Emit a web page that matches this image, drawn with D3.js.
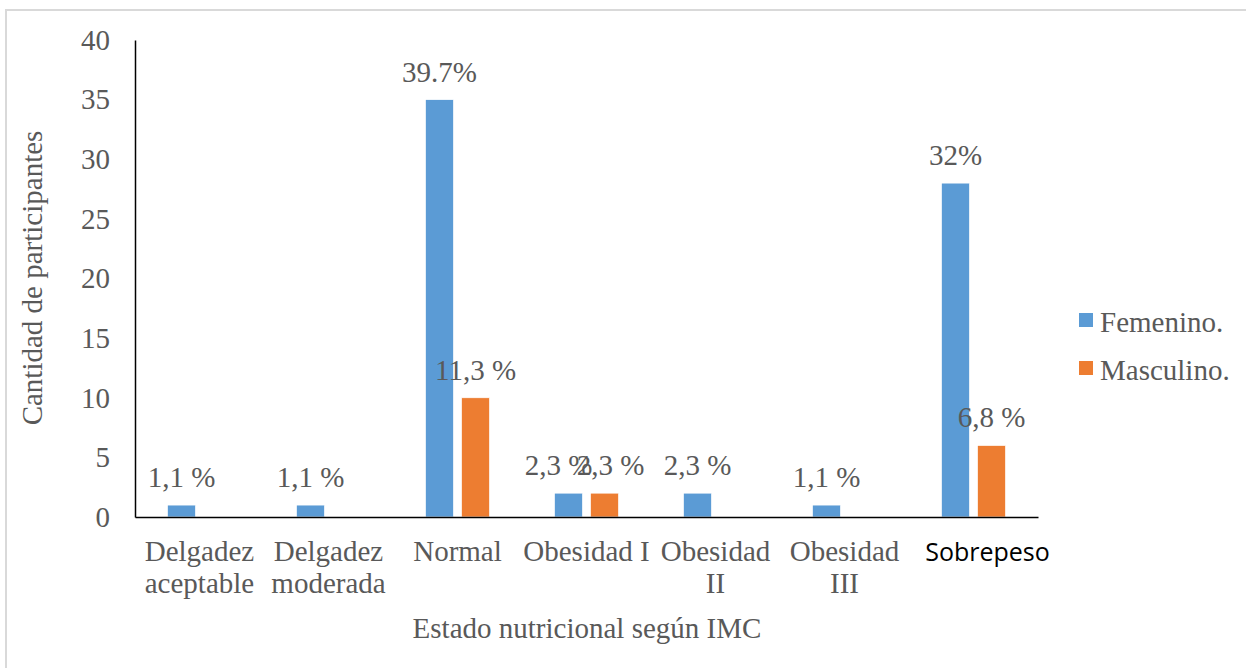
<!DOCTYPE html>
<html lang="es">
<head>
<meta charset="UTF-8">
<title>Estado nutricional según IMC</title>
<script src="https://d3js.org/d3.v7.min.js"></script>
<style>
  body { margin: 0; background: #fff; }
  svg text { font-family: "Liberation Serif", "Times New Roman", serif; fill: #595959; }
</style>
</head>
<body>
<svg width="1246" height="668"></svg>
<script>
// chart data
const categories = [["Delgadez", "aceptable"], ["Delgadez", "moderada"], ["Normal"], ["Obesidad I"], ["Obesidad", "II"], ["Obesidad", "III"], ["Sobrepeso"]];
const femenino = [1, 1, 35, 2, 2, 1, 28];
const masculino = [0, 0, 10, 2, 0, 0, 6];
const femLabels = ["1,1 %", "1,1 %", "39.7%", "2,3 %", "2,3 %", "1,1 %", "32%"];
const mascLabels = [null, null, "11,3 %", "2,3 %", null, null, "6,8 %"];
const seriesNames = ["Femenino.", "Masculino."];
const yTicks = [0, 5, 10, 15, 20, 25, 30, 35, 40];

const colors = ["#5b9bd5", "#ed7d31"];
const fs = "29px";
const svg = d3.select("svg");

// outer frame
svg.append("rect")
    .attr("x", 6).attr("y", 10)
    .attr("width", 1260).attr("height", 680)
    .attr("fill", "none").attr("stroke", "#d9d9d9").attr("stroke-width", 2);

const plotLeft = 135, plotRight = 1038, plotTop = 40, plotBottom = 517;

const x = d3.scaleBand().domain(d3.range(categories.length)).range([plotLeft, plotRight]);
const sub = d3.scaleBand().domain([0, 1]).range([0, x.bandwidth()]).paddingInner(0.22).paddingOuter(0.9);
const y = d3.scaleLinear().domain([0, 40]).range([plotBottom, plotTop]);

// labels in the crowded "Obesidad I" group are pushed apart a little, as in the original
const nudge = (s, i) => (i === 3 ? (s === 0 ? -10 : 6) : 0);

// bars + labels
const series = [femenino, masculino];
const labels = [femLabels, mascLabels];
series.forEach((vals, s) => {
    const rows = vals.map((v, i) => ({ v, i, label: labels[s][i] }));

    svg.append("g").selectAll("rect")
        .data(rows.filter(d => d.v > 0))
        .join("rect")
        .attr("x", d => x(d.i) + sub(s))
        .attr("y", d => y(d.v))
        .attr("width", sub.bandwidth())
        .attr("height", d => y(0) - y(d.v))
        .attr("fill", colors[s])
        .attr("stroke", "#fff").attr("stroke-width", 0.7);

    svg.append("g").selectAll("text")
        .data(rows.filter(d => d.label != null))
        .join("text")
        .attr("x", d => x(d.i) + sub(s) + sub.bandwidth() / 2 + nudge(s, d.i))
        .attr("y", d => y(d.v) - 18)
        .attr("text-anchor", "middle")
        .attr("font-size", fs)
        .text(d => d.label);
});

// y axis
const yAxis = svg.append("g")
    .attr("transform", `translate(${plotLeft},0)`)
    .call(d3.axisLeft(y).tickValues(yTicks).tickSize(0).tickPadding(25));
yAxis.select(".domain").attr("stroke", "#000").attr("stroke-width", 1.5);
yAxis.selectAll("text").attr("font-size", fs);

// x axis
const xAxis = svg.append("g")
    .attr("transform", `translate(0,${plotBottom})`)
    .call(d3.axisBottom(x).tickSize(0).tickFormat(""));
xAxis.select(".domain").attr("stroke", "#000").attr("stroke-width", 1.5);

const catText = svg.append("g").selectAll("text")
    .data(categories)
    .join("text")
    .attr("x", (d, i) => x(i) + x.bandwidth() / 2)
    .attr("y", 561)
    .attr("text-anchor", "middle")
    .attr("font-size", fs);
catText.each(function (d, i) {
    const t = d3.select(this);
    if (i === categories.length - 1) {
        t.style("font-family", "'Open Sans', 'Noto Sans', sans-serif")
            .style("fill", "#000").attr("font-size", "25px").attr("x", x(i) + x.bandwidth() / 2 + 14);
    }
    d.forEach((line, k) => {
        t.append("tspan")
            .attr("x", t.attr("x"))
            .attr("dy", k === 0 ? 0 : 32)
            .text(line);
    });
});

// axis titles
svg.append("text")
    .attr("transform", `translate(42,278) rotate(-90)`)
    .attr("text-anchor", "middle")
    .attr("font-size", fs)
    .text("Cantidad de participantes");

svg.append("text")
    .attr("x", 587).attr("y", 638)
    .attr("text-anchor", "middle")
    .attr("font-size", fs)
    .text("Estado nutricional según IMC");

// legend
const legend = svg.append("g").selectAll("g")
    .data(seriesNames)
    .join("g")
    .attr("transform", (d, i) => `translate(1079,${313 + i * 48})`);
legend.append("rect")
    .attr("width", 14).attr("height", 14)
    .attr("fill", (d, i) => colors[i]);
legend.append("text")
    .attr("x", 21).attr("y", 19)
    .attr("font-size", fs)
    .text(d => d);
</script>
</body>
</html>
